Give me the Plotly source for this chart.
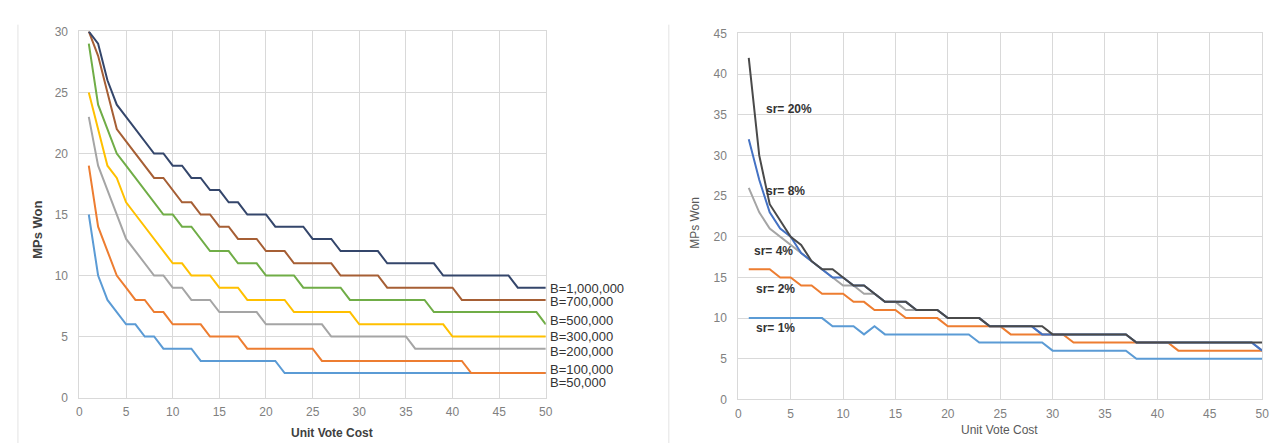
import plotly.graph_objects as go

W, H = 1281, 443

unit_cost = [1, 2, 3, 4, 5, 6, 7, 8, 9, 10, 11, 12, 13, 14, 15, 16, 17, 18, 19, 20,
             21, 22, 23, 24, 25, 26, 27, 28, 29, 30, 31, 32, 33, 34, 35, 36, 37, 38, 39, 40,
             41, 42, 43, 44, 45, 46, 47, 48, 49, 50]

# ---- Left chart: budgets ----
b_50k = [15, 10, 8, 7, 6, 6, 5, 5, 4, 4, 4, 4, 3, 3, 3, 3, 3, 3, 3, 3,
         3, 2, 2, 2, 2, 2, 2, 2, 2, 2, 2, 2, 2, 2, 2, 2, 2, 2, 2, 2,
         2, 2, 2, 2, 2, 2, 2, 2, 2, 2]
b_100k = [19, 14, 12, 10, 9, 8, 8, 7, 7, 6, 6, 6, 6, 5, 5, 5, 5, 4, 4, 4,
          4, 4, 4, 4, 4, 3, 3, 3, 3, 3, 3, 3, 3, 3, 3, 3, 3, 3, 3, 3,
          3, 2, 2, 2, 2, 2, 2, 2, 2, 2]
b_200k = [23, 19, 17, 15, 13, 12, 11, 10, 10, 9, 9, 8, 8, 8, 7, 7, 7, 7, 7, 6,
          6, 6, 6, 6, 6, 6, 5, 5, 5, 5, 5, 5, 5, 5, 5, 4, 4, 4, 4, 4,
          4, 4, 4, 4, 4, 4, 4, 4, 4, 4]
b_300k = [25, 22, 19, 18, 16, 15, 14, 13, 12, 11, 11, 10, 10, 10, 9, 9, 9, 8, 8, 8,
          8, 8, 7, 7, 7, 7, 7, 7, 7, 6, 6, 6, 6, 6, 6, 6, 6, 6, 6, 5,
          5, 5, 5, 5, 5, 5, 5, 5, 5, 5]
b_500k = [29, 24, 22, 20, 19, 18, 17, 16, 15, 15, 14, 14, 13, 12, 12, 12, 11, 11, 11, 10,
          10, 10, 10, 9, 9, 9, 9, 9, 8, 8, 8, 8, 8, 8, 8, 8, 8, 7, 7, 7,
          7, 7, 7, 7, 7, 7, 7, 7, 7, 6]
b_700k = [30, 28, 25, 22, 21, 20, 19, 18, 18, 17, 16, 16, 15, 15, 14, 14, 13, 13, 13, 12,
          12, 12, 11, 11, 11, 11, 11, 10, 10, 10, 10, 10, 9, 9, 9, 9, 9, 9, 9, 9,
          8, 8, 8, 8, 8, 8, 8, 8, 8, 8]
b_1m = [30, 29, 26, 24, 23, 22, 21, 20, 20, 19, 19, 18, 18, 17, 17, 16, 16, 15, 15, 15,
        14, 14, 14, 14, 13, 13, 13, 12, 12, 12, 12, 12, 11, 11, 11, 11, 11, 11, 10, 10,
        10, 10, 10, 10, 10, 10, 9, 9, 9, 9]

left_names = ["B=50,000", "B=100,000", "B=200,000", "B=300,000", "B=500,000", "B=700,000", "B=1,000,000"]
left_series = [b_50k, b_100k, b_200k, b_300k, b_500k, b_700k, b_1m]
left_colors = ["#5B9BD5", "#ED7D31", "#A5A5A5", "#FFC000", "#70AD47", "#A65F35", "#34466B"]
left_label_y = [1.27, 2.3, 3.8, 5.0, 6.35, 7.86, 8.97]

# ---- Right chart: success rates ----
sr_1 = [10, 10, 10, 10, 10, 10, 10, 10, 9, 9, 9, 8, 9, 8, 8, 8, 8, 8, 8, 8,
        8, 8, 7, 7, 7, 7, 7, 7, 7, 6, 6, 6, 6, 6, 6, 6, 6, 5, 5, 5,
        5, 5, 5, 5, 5, 5, 5, 5, 5, 5]
sr_2 = [16, 16, 16, 15, 15, 14, 14, 13, 13, 13, 12, 12, 11, 11, 11, 10, 10, 10, 10, 9,
        9, 9, 9, 9, 9, 8, 8, 8, 8, 8, 8, 7, 7, 7, 7, 7, 7, 7, 7, 7,
        7, 6, 6, 6, 6, 6, 6, 6, 6, 6]
sr_4 = [26, 23, 21, 20, 19, 18, 17, 16, 15, 14, 14, 13, 13, 12, 12, 11, 11, 11, 11, 10,
        10, 10, 10, 9, 9, 9, 9, 9, 8, 8, 8, 8, 8, 8, 8, 8, 8, 7, 7, 7,
        7, 7, 7, 7, 7, 7, 7, 7, 7, 6]
sr_8 = [32, 27, 23, 21, 20, 18, 17, 16, 15, 15, 14, 14, 13, 12, 12, 12, 11, 11, 11, 10,
        10, 10, 10, 9, 9, 9, 9, 9, 8, 8, 8, 8, 8, 8, 8, 8, 8, 7, 7, 7,
        7, 7, 7, 7, 7, 7, 7, 7, 7, 6]
sr_20 = [42, 30, 24, 22, 20, 19, 17, 16, 16, 15, 14, 14, 13, 12, 12, 12, 11, 11, 11, 10,
         10, 10, 10, 9, 9, 9, 9, 9, 9, 8, 8, 8, 8, 8, 8, 8, 8, 7, 7, 7,
         7, 7, 7, 7, 7, 7, 7, 7, 7, 7]

right_names = ["sr= 1%", "sr= 2%", "sr= 4%", "sr= 8%", "sr= 20%"]
right_series = [sr_1, sr_2, sr_4, sr_8, sr_20]
right_colors = ["#5B9BD5", "#ED7D31", "#A5A5A5", "#4472C4", "#4A4A4A"]
right_label_pos = [(1.5, 8.8), (1.5, 13.6), (1.33, 18.2), (2.46, 25.6), (2.46, 35.7)]

FONT = "Liberation Sans, Arial, sans-serif"

fig = go.Figure()

for name, ys, col in zip(left_names, left_series, left_colors):
    fig.add_trace(go.Scatter(x=unit_cost, y=ys, mode="lines", name=name,
                             line=dict(color=col, width=2), xaxis="x", yaxis="y"))
for name, ys, col in zip(right_names, right_series, right_colors):
    fig.add_trace(go.Scatter(x=unit_cost, y=ys, mode="lines", name=name,
                             line=dict(color=col, width=2), xaxis="x2", yaxis="y2"))

grid = "#D9D9D9"
tickfont = dict(family=FONT, size=12, color="#808080")

def xax(domain, anchor):
    return dict(domain=domain, anchor=anchor, range=[0, 50], tick0=0, dtick=5,
                showgrid=True, gridcolor=grid, gridwidth=1, zeroline=False,
                showline=True, linecolor=grid, mirror=True,
                ticks="outside", ticklen=3, tickcolor="rgba(0,0,0,0)",
                tickfont=tickfont, fixedrange=True)

def yax(domain, anchor, top):
    return dict(domain=domain, anchor=anchor, range=[0, top], tick0=0, dtick=5,
                showgrid=True, gridcolor=grid, gridwidth=1, zeroline=False,
                showline=True, linecolor=grid, mirror=True,
                ticks="outside", ticklen=8, tickcolor="rgba(0,0,0,0)",
                tickfont=tickfont, fixedrange=True)

annotations = []
for name, ly in zip(left_names, left_label_y):
    annotations.append(dict(x=50, y=ly, xref="x", yref="y", text=name, showarrow=False,
                            xanchor="left", yanchor="middle", xshift=2,
                            font=dict(family=FONT, size=13, color="#333333")))
for name, (lx, ly) in zip(right_names, right_label_pos):
    annotations.append(dict(x=lx, y=ly, xref="x2", yref="y2", text="<b>%s</b>" % name, showarrow=False,
                            xanchor="left", yanchor="middle",
                            font=dict(family=FONT, size=12, color="#333333")))

# axis titles
annotations += [
    dict(x=27 / W, y=1 - 222 / H, xref="paper", yref="paper", text="<b>MPs Won</b>", textangle=-90,
         xanchor="center", yanchor="middle",
         showarrow=False, font=dict(family=FONT, size=13, color="#404040")),
    dict(x=324 / W, y=1 - 432 / H, xref="paper", yref="paper", text="<b>Unit Vote Cost</b>",
         xanchor="center", yanchor="middle",
         showarrow=False, font=dict(family=FONT, size=12, color="#404040")),
    dict(x=690 / W, y=1 - 215 / H, xref="paper", yref="paper", text="MPs Won", textangle=-90,
         xanchor="center", yanchor="middle",
         showarrow=False, font=dict(family=FONT, size=12, color="#595959")),
    dict(x=996 / W, y=1 - 429 / H, xref="paper", yref="paper", text="Unit Vote Cost",
         xanchor="center", yanchor="middle",
         showarrow=False, font=dict(family=FONT, size=12, color="#595959")),
]

shapes = [
    dict(type="line", xref="paper", yref="paper", x0=7 / W, x1=7 / W, y0=0, y1=1 - 10 / H,
         line=dict(color="#E3E3E3", width=1)),
    dict(type="line", xref="paper", yref="paper", x0=663 / W, x1=663 / W, y0=0, y1=1 - 10 / H,
         line=dict(color="#E3E3E3", width=1)),
]

fig.update_layout(
    width=W, height=H, margin=dict(l=0, r=0, t=0, b=0),
    paper_bgcolor="white", plot_bgcolor="white", showlegend=False,
    xaxis=xax([69 / W, 539 / W], "y"),
    yaxis=yax([1 - 395 / H, 1 - 17 / H], "x", 30),
    xaxis2=xax([733 / W, 1261 / W], "y2"),
    yaxis2=yax([1 - 397 / H, 1 - 19 / H], "x2", 45),
    annotations=annotations, shapes=shapes,
)

fig.write_html("out.html")
